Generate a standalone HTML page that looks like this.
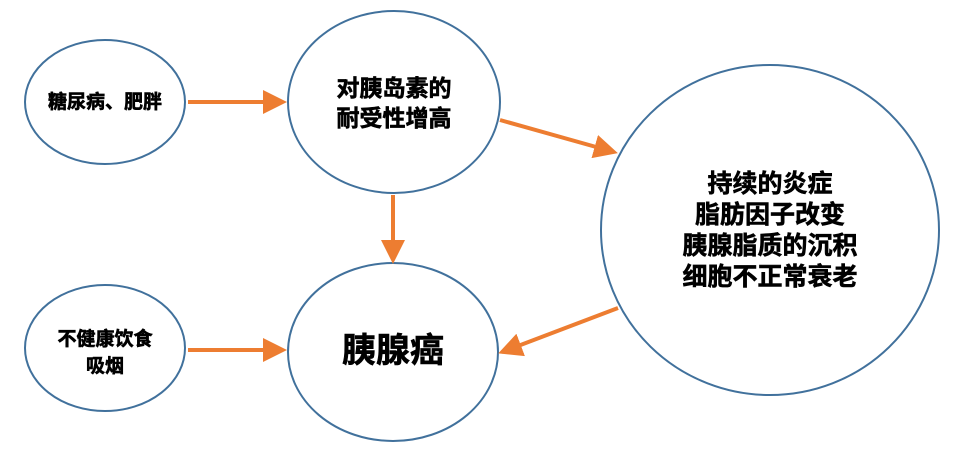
<!DOCTYPE html>
<html><head><meta charset="utf-8"><style>
html,body{margin:0;padding:0;background:#fff;}
svg{display:block;}
text{font-family:"Liberation Sans","Noto Sans CJK SC",sans-serif;font-weight:bold;fill:#000;stroke:#000;stroke-width:0.6;text-anchor:middle;}
</style></head><body>
<svg width="963" height="464" viewBox="0 0 963 464" xmlns="http://www.w3.org/2000/svg">
<defs>
<marker id="a" markerWidth="6" markerHeight="6" refX="5" refY="3" orient="auto" markerUnits="strokeWidth">
<path d="M0,0 L6,3 L0,6 z" fill="#ED7D31"/>
</marker>
</defs>
<g fill="#fff" stroke="#41719C" stroke-width="2">
<ellipse cx="105" cy="102" rx="80" ry="62"/>
<ellipse cx="394" cy="102" rx="106" ry="91"/>
<ellipse cx="770" cy="230" rx="169" ry="165"/>
<ellipse cx="105" cy="348" rx="80" ry="63"/>
<ellipse cx="393" cy="352" rx="105" ry="89"/>
</g>
<g stroke="#ED7D31" stroke-width="4" fill="none" marker-end="url(#a)">
<line x1="188" y1="102" x2="283" y2="102"/>
<line x1="393" y1="195" x2="393" y2="260"/>
<line x1="500" y1="120" x2="614" y2="152"/>
<line x1="618" y1="308" x2="502" y2="352"/>
<line x1="188" y1="350" x2="283" y2="350"/>
</g>
<text x="105" y="108" font-size="19">糖尿病、肥胖</text>
<text x="394" y="96" font-size="23">对胰岛素的</text>
<text x="394" y="126" font-size="23">耐受性增高</text>
<text x="770" y="192" font-size="25">持续的炎症</text>
<text x="770" y="223" font-size="25">脂肪因子改变</text>
<text x="770" y="254" font-size="25">胰腺脂质的沉积</text>
<text x="770" y="285" font-size="25">细胞不正常衰老</text>
<text x="105" y="345" font-size="19">不健康饮食</text>
<text x="105" y="372" font-size="19">吸烟</text>
<text x="393" y="362" font-size="34">胰腺癌</text>
</svg>
</body></html>
